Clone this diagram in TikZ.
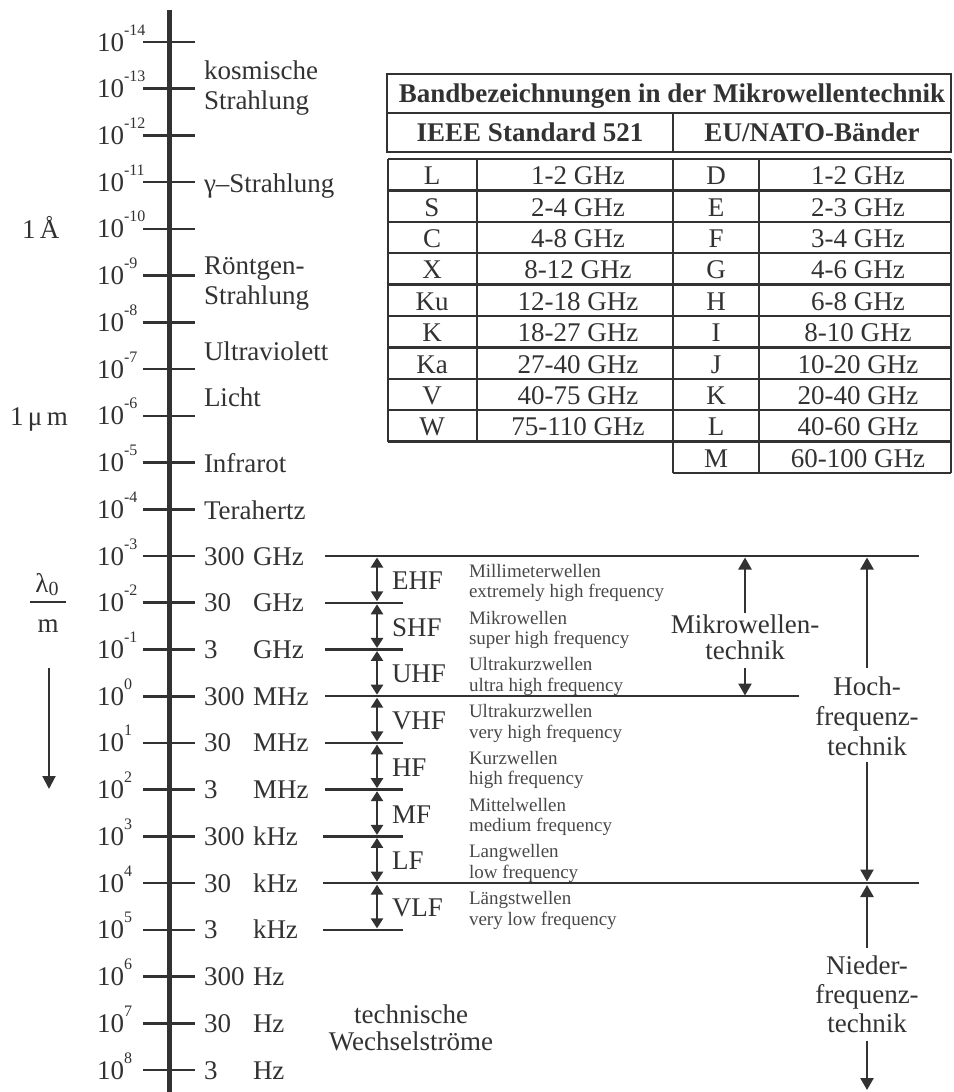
\documentclass[tikz,border=0pt]{standalone}
\usepackage{fontspec}
\setmainfont{Liberation Serif}
\usetikzlibrary{arrows.meta}
\definecolor{ink}{RGB}{50,50,50}
\definecolor{inklight}{RGB}{72,72,72}
\begin{document}
\begin{tikzpicture}[x=1pt,y=-1pt,
  every node/.style={inner sep=0pt, outer sep=0pt, text=ink},
  lbl/.style={font=\fontsize{27}{30}\selectfont},
  desc/.style={font=\fontsize{19}{20}\selectfont, anchor=base west, text=inklight},
  boldlbl/.style={font=\fontsize{27}{30}\selectfont\bfseries},
  axisline/.style={draw=ink, line width=5pt},
  tickline/.style={draw=ink, line width=2.6pt},
  bandline/.style={draw=ink, line width=2.4pt},
  tabline/.style={draw=ink, line width=2.4pt},
  dblarrow/.style={draw=ink, line width=2.4pt, {Triangle[length=10pt,width=12pt]}-{Triangle[length=10pt,width=12pt]}},
  onearrow/.style={draw=ink, line width=2.4pt, -{Triangle[length=12pt,width=13pt]}},
]
\useasboundingbox (0,0) rectangle (953,1092);

% ---------------- main axis ----------------
\coordinate (axtop) at (169,10);
\coordinate (axbot) at (169,1092);
\draw[axisline] (axtop) -- (axbot);

\foreach \k [count=\i] in {-14,-13,...,8} {
  \pgfmathsetmacro{\ty}{42+(\k+14)*46.73}
  \coordinate (tl\i) at (143,\ty);
  \coordinate (tr\i) at (195,\ty);
  \draw[tickline] (tl\i) -- (tr\i);
  \node[lbl, anchor=base west] (e\i) at (97,\ty+9)
     {10\raisebox{16pt}{\fontsize{16}{16}\selectfont\k}};
}

% ---------------- left labels ----------------
\node[lbl, anchor=base west] (ang) at (22,238) {1\,Å};
\node[lbl, anchor=base west] (mu) at (10,425) {1\,μ\,m};
\node[lbl, anchor=base] (lam) at (47,592) {λ\raisebox{-3pt}{\fontsize{20}{20}\selectfont 0}};
\coordinate (fl) at (30,602);
\coordinate (fr) at (66,602);
\draw[draw=ink, line width=2pt] (fl) -- (fr);
\node[lbl, anchor=base] (unitm) at (48,632) {m};
\coordinate (la1) at (49,668);
\coordinate (la2) at (49,789);
\draw[draw=ink, line width=2pt, -{Triangle[length=13pt,width=13pt]}] (la1) -- (la2);

% ---------------- radiation labels ----------------
\node[lbl, anchor=base west] (r1) at (204,79) {kosmische};
\node[lbl, anchor=base west] (r2) at (204,109) {Strahlung};
\node[lbl, anchor=base west] (r3) at (204,192) {γ–Strahlung};
\node[lbl, anchor=base west] (r4) at (204,274) {Röntgen-};
\node[lbl, anchor=base west] (r5) at (204,304) {Strahlung};
\node[lbl, anchor=base west] (r6) at (204,360) {Ultraviolett};
\node[lbl, anchor=base west] (r7) at (204,406) {Licht};
\node[lbl, anchor=base west] (r8) at (204,472) {Infrarot};
\node[lbl, anchor=base west] (r9) at (204,519) {Terahertz};

% ---------------- frequencies ----------------
\foreach \k/\n/\u in {-3/300/GHz,-2/30/GHz,-1/3/GHz,0/300/MHz,1/30/MHz,2/3/MHz,3/300/kHz,4/30/kHz,5/3/kHz,6/300/Hz,7/30/Hz,8/3/Hz} {
  \pgfmathsetmacro{\ty}{42+(\k+14)*46.73}
  \pgfmathtruncatemacro{\j}{\k+4}
  \node[lbl, anchor=base west] (fn\j) at (204,\ty+9) {\n};
  \node[lbl, anchor=base west] (fu\j) at (253,\ty+9) {\u};
}

% ---------------- band lines ----------------
\foreach \k/\xs/\xe [count=\i] in {-3/325/919,-2/325/403,-1/325/403,0/325/799,1/325/403,2/325/403,3/323/403,4/323/919,5/323/403} {
  \pgfmathsetmacro{\ty}{42+(\k+14)*46.73}
  \coordinate (bl\i) at (\xs,\ty);
  \coordinate (br\i) at (\xe,\ty);
  \draw[bandline] (bl\i) -- (br\i);
}

% ---------------- bands ----------------
\foreach \nm/\la/\lb [count=\i] in {EHF/Millimeterwellen/extremely high frequency,
  SHF/Mikrowellen/super high frequency,
  UHF/Ultrakurzwellen/ultra high frequency,
  VHF/Ultrakurzwellen/very high frequency,
  HF/Kurzwellen/high frequency,
  MF/Mittelwellen/medium frequency,
  LF/Langwellen/low frequency,
  VLF/Längstwellen/very low frequency} {
  \pgfmathsetmacro{\tt}{42+(\i+10)*46.73}
  \pgfmathsetmacro{\tb}{42+(\i+11)*46.73}
  \pgfmathsetmacro{\tm}{42+(\i+10.5)*46.73}
  \coordinate (bt\i) at (377,\tt+1.5);
  \coordinate (bb\i) at (377,\tb-1.5);
  \draw[dblarrow] (bt\i) -- (bb\i);
  \node[lbl, anchor=base west] (bn\i) at (392,\tm+10) {\nm};
  \node[desc] (da\i) at (469,\tm-2) {\la};
  \node[desc] (db\i) at (469,\tm+18.5) {\lb};
}

% ---------------- Mikrowellentechnik ----------------
\node[lbl, anchor=base] (mw1) at (745,633) {Mikrowellen-};
\node[lbl, anchor=base] (mw2) at (745,659) {technik};
\coordinate (mwa) at (745,613);
\coordinate (mwb) at (745,557.5);
\coordinate (mwc) at (745,668);
\coordinate (mwd) at (745,695.5);
\draw[onearrow] (mwa) -- (mwb);
\draw[onearrow] (mwc) -- (mwd);

% ---------------- Hochfrequenztechnik ----------------
\node[lbl, anchor=base] (hf1) at (867,695) {Hoch-};
\node[lbl, anchor=base] (hf2) at (867,725) {frequenz-};
\node[lbl, anchor=base] (hf3) at (867,755) {technik};
\coordinate (hfa) at (867,668);
\coordinate (hfb) at (867,557.5);
\coordinate (hfc) at (867,762);
\coordinate (hfd) at (867,881.5);
\draw[onearrow] (hfa) -- (hfb);
\draw[onearrow] (hfc) -- (hfd);

% ---------------- Niederfrequenztechnik ----------------
\node[lbl, anchor=base] (nf1) at (867,974) {Nieder-};
\node[lbl, anchor=base] (nf2) at (867,1003) {frequenz-};
\node[lbl, anchor=base] (nf3) at (867,1032) {technik};
\coordinate (nfa) at (867,948);
\coordinate (nfb) at (867,885);
\coordinate (nfc) at (867,1041);
\coordinate (nfd) at (867,1090);
\draw[onearrow] (nfa) -- (nfb);
\draw[onearrow] (nfc) -- (nfd);

% ---------------- technische Wechselstroeme ----------------
\node[lbl, anchor=base] (tw1) at (411,1023) {technische};
\node[lbl, anchor=base] (tw2) at (411,1050) {Wechselströme};

% ---------------- table header ----------------
\draw[tabline] (387,74) rectangle (951,152);
\draw[tabline] (387,113) -- (951,113);
\draw[tabline] (673,113) -- (673,152);
\node[boldlbl, anchor=base] (tt) at (672,102) {Bandbezeichnungen in der Mikrowellentechnik};
\node[boldlbl, anchor=base] (th1) at (530,141.5) {IEEE Standard 521};
\node[boldlbl, anchor=base] (th2) at (812,141.5) {EU/NATO-Bänder};

% ---------------- table body ----------------
\foreach \j in {0,...,9} {
  \draw[tabline] (388,159+31.4*\j) -- (951,159+31.4*\j);
}
\draw[tabline] (673,159+31.4*10) -- (951,159+31.4*10);
\draw[tabline] (388,159) -- (388,159+31.4*9);
\draw[tabline] (477,159) -- (477,159+31.4*9);
\draw[tabline] (673,159) -- (673,159+31.4*10);
\draw[tabline] (759,159) -- (759,159+31.4*10);
\draw[tabline] (951,159) -- (951,159+31.4*10);

\foreach \a/\b [count=\i from 0] in {L/1-2 GHz,S/2-4 GHz,C/4-8 GHz,X/8-12 GHz,Ku/12-18 GHz,K/18-27 GHz,Ka/27-40 GHz,V/40-75 GHz,W/75-110 GHz} {
  \node[lbl, anchor=base] (ia\i) at (432,159+31.4*\i+25.7) {\a};
  \node[lbl, anchor=base] (ib\i) at (578,159+31.4*\i+25.7) {\b};
}
\foreach \a/\b [count=\i from 0] in {D/1-2 GHz,E/2-3 GHz,F/3-4 GHz,G/4-6 GHz,H/6-8 GHz,I/8-10 GHz,J/10-20 GHz,K/20-40 GHz,L/40-60 GHz,M/60-100 GHz} {
  \node[lbl, anchor=base] (ea\i) at (716,159+31.4*\i+25.7) {\a};
  \node[lbl, anchor=base] (eb\i) at (858,159+31.4*\i+25.7) {\b};
}
\end{tikzpicture}
\end{document}
